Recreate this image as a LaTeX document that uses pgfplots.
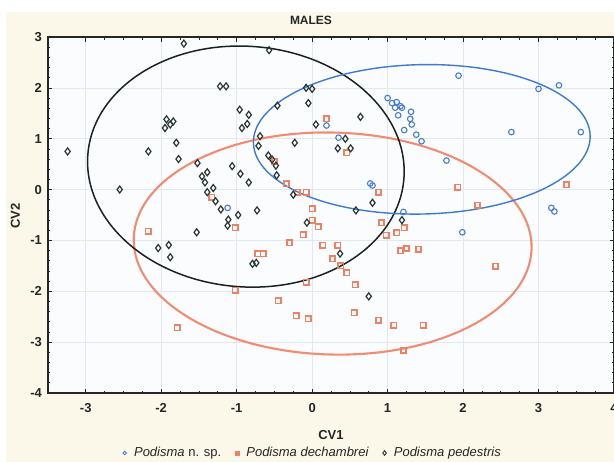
\documentclass[border=0pt]{standalone}
\usepackage{pgfplots}
\pgfplotsset{compat=1.18}
\usepackage{fontspec}
\setmainfont{Liberation Sans}
\definecolor{bgcream}{RGB}{251,247,233}
\definecolor{plotbg}{RGB}{251,252,254}
\definecolor{gridc}{RGB}{225,232,240}
\definecolor{cblue}{RGB}{70,125,212}
\definecolor{corange}{RGB}{240,128,98}
\definecolor{cdark}{RGB}{40,55,50}
\definecolor{eblack}{RGB}{25,35,35}
\definecolor{eblue}{RGB}{60,122,212}
\definecolor{eorange}{RGB}{242,140,112}
\begin{document}
\begin{tikzpicture}
\path[use as bounding box, fill=white] (-48bp,-69bp) rectangle (566bp,393bp);
\fill[bgcream] (-42bp,-69bp) rectangle (566bp,381bp);
\begin{axis}[
  scale only axis, width=566bp, height=356bp,
  xmin=-3.5, xmax=4, ymin=-4, ymax=3,
  xtick={-3,-2,...,4}, ytick={-4,-3,...,3},
  minor x tick num=3, minor y tick num=4,
  tick align=inside,
  major tick length=4.5bp, minor tick length=2.5bp,
  grid=major, major grid style={color=gridc, line width=0.6pt},
  axis line style={line width=1.1bp, color=black!85},
  tick style={color=black!85, line width=0.7bp},
  axis background/.style={fill=plotbg},
  /pgf/number format/assume math mode=true,
  ticklabel style={font=\fontsize{13bp}{15bp}\selectfont\bfseries, text=black!85},
  xticklabel style={yshift=-7bp},
  yticklabel style={xshift=-2.5bp},
  legend columns=3,
  legend style={at={(rel axis cs:0.468,-0.1685)}, anchor=center, draw=none, fill=none,
    font=\fontsize{13bp}{15bp}\selectfont, text=black!85,
    /tikz/every odd column/.append style={column sep=5.5bp},
    /tikz/every even column/.append style={column sep=12bp}},
  legend cell align=left,
]
\addlegendimage{only marks, mark=o, mark size=1.8bp, color=cblue, line width=0.9bp}
\addlegendentry{\textit{Podisma} n. sp.}
\addlegendimage{only marks, mark=square*, mark size=1.8bp, color=corange}
\addlegendentry{\textit{Podisma dechambrei}}
\addlegendimage{only marks, mark=diamond, mark size=2.4bp, color=cdark, line width=0.9bp}
\addlegendentry{\textit{Podisma pedestris}}

% Podisma n. sp.
\addplot[forget plot, only marks, mark=o, mark size=2.8bp, color=cblue, line width=1.1bp] coordinates {
(1.00,1.80)(1.06,1.70)(1.12,1.72)(1.17,1.64)(1.10,1.61)(1.19,1.61)(1.14,1.46)
(1.31,1.53)(1.30,1.39)(1.32,1.28)(1.22,1.17)(1.38,1.08)(1.45,0.95)
(1.94,2.24)(3.00,1.98)(3.27,2.05)(2.64,1.13)(3.56,1.13)(1.78,0.57)
(0.35,1.02)(0.19,1.26)(0.77,0.12)(0.80,0.08)(1.21,-0.44)(3.17,-0.36)(3.21,-0.43)
(1.99,-0.84)(-1.12,-0.36)
};
% Podisma dechambrei
\addplot[forget plot, only marks, mark=square, mark size=2.7bp, color=corange, line width=1.6bp] coordinates {
(0.19,1.39)(0.46,0.72)(1.93,0.05)(3.37,0.09)(2.19,-0.31)(0.88,-0.05)
(-0.34,0.11)(-0.20,-0.05)(-0.08,-0.05)(0.00,-0.38)(0.00,-0.60)(0.08,-0.73)
(0.92,-0.65)(1.12,-0.85)(1.22,-0.75)(0.98,-0.90)(-0.12,-0.89)(-0.30,-1.05)
(-0.72,-1.26)(-0.65,-1.26)(0.14,-1.09)(0.34,-1.09)(0.27,-1.36)(0.38,-1.50)
(0.46,-1.64)(-1.02,-0.75)(-1.02,-1.98)(-0.08,-1.82)(0.57,-1.87)(-0.45,-2.19)
(-0.21,-2.48)(-0.05,-2.54)(0.56,-2.42)(0.88,-2.57)(1.08,-2.67)(1.47,-2.67)
(1.21,-3.16)(2.43,-1.51)(1.41,-1.17)(1.25,-1.16)(1.17,-1.20)(-2.17,-0.82)
(-1.79,-2.72)(-1.33,-0.15)(-0.50,0.56)
};
% Podisma pedestris
\addplot[forget plot, only marks, mark=diamond, mark size=3.5bp, color=cdark, line width=1.2bp] coordinates {
(-1.70,2.87)(-0.57,2.74)(-1.22,2.03)(-1.14,2.03)(-0.08,2.00)(0.00,1.98)
(-0.05,1.70)(-0.96,1.57)(-0.84,1.47)(-0.46,1.65)(0.64,1.43)(-0.93,1.21)
(-0.86,1.29)(0.05,1.28)(-1.93,1.38)(-1.84,1.34)(-1.95,1.21)(-1.88,1.28)
(-1.80,0.92)(-3.24,0.75)(-2.17,0.75)(-1.77,0.60)(-0.69,1.05)(-0.71,0.86)
(-0.23,0.92)(0.44,1.00)(0.34,0.81)(0.51,0.81)(-1.52,0.52)(-1.39,0.34)
(-1.46,0.26)(-1.42,0.14)(-1.31,0.03)(-1.39,-0.05)(-1.28,-0.23)(-1.21,-0.39)
(-2.55,0.00)(-1.06,0.46)(-0.95,0.31)(-0.84,0.14)(-0.58,0.67)(-0.53,0.59)
(-0.48,0.47)(-0.47,0.28)(-0.25,-0.10)(0.80,-0.26)(0.58,-0.41)(-0.73,-0.41)
(-0.98,-0.50)(-1.11,-0.59)(-1.12,-0.71)(-1.53,-0.84)(1.19,-0.60)(-0.07,-0.65)
(0.37,-1.26)(0.75,-2.10)(-2.04,-1.15)(-1.90,-1.09)(-1.88,-1.33)(-0.79,-1.46)
(-0.74,-1.44)
};
% confidence ellipses
\draw[eorange, line width=2.1bp, rotate around={-1.5:(axis cs:0.272,-1.061)}]
  (axis cs:0.272,-1.061) ellipse [x radius=199bp, y radius=111bp];
\draw[eblack, line width=1.5bp, rotate around={-4.3:(axis cs:-0.878,0.452)}]
  (axis cs:-0.878,0.452) ellipse [x radius=158.5bp, y radius=120.3bp];
\draw[eblue, line width=1.4bp, rotate around={1.2:(axis cs:1.453,0.988)}]
  (axis cs:1.453,0.988) ellipse [x radius=168.4bp, y radius=74.7bp];
\end{axis}
\node[font=\fontsize{12bp}{14bp}\selectfont\bfseries, text=black!85] at (263bp,373bp) {MALES};
\node[font=\fontsize{13bp}{15bp}\selectfont\bfseries, text=black!85] at (283bp,-42bp) {CV1};
\node[font=\fontsize{13bp}{15bp}\selectfont\bfseries, text=black!85, rotate=90] at (-32.5bp,177bp) {CV2};
\end{tikzpicture}
\end{document}
